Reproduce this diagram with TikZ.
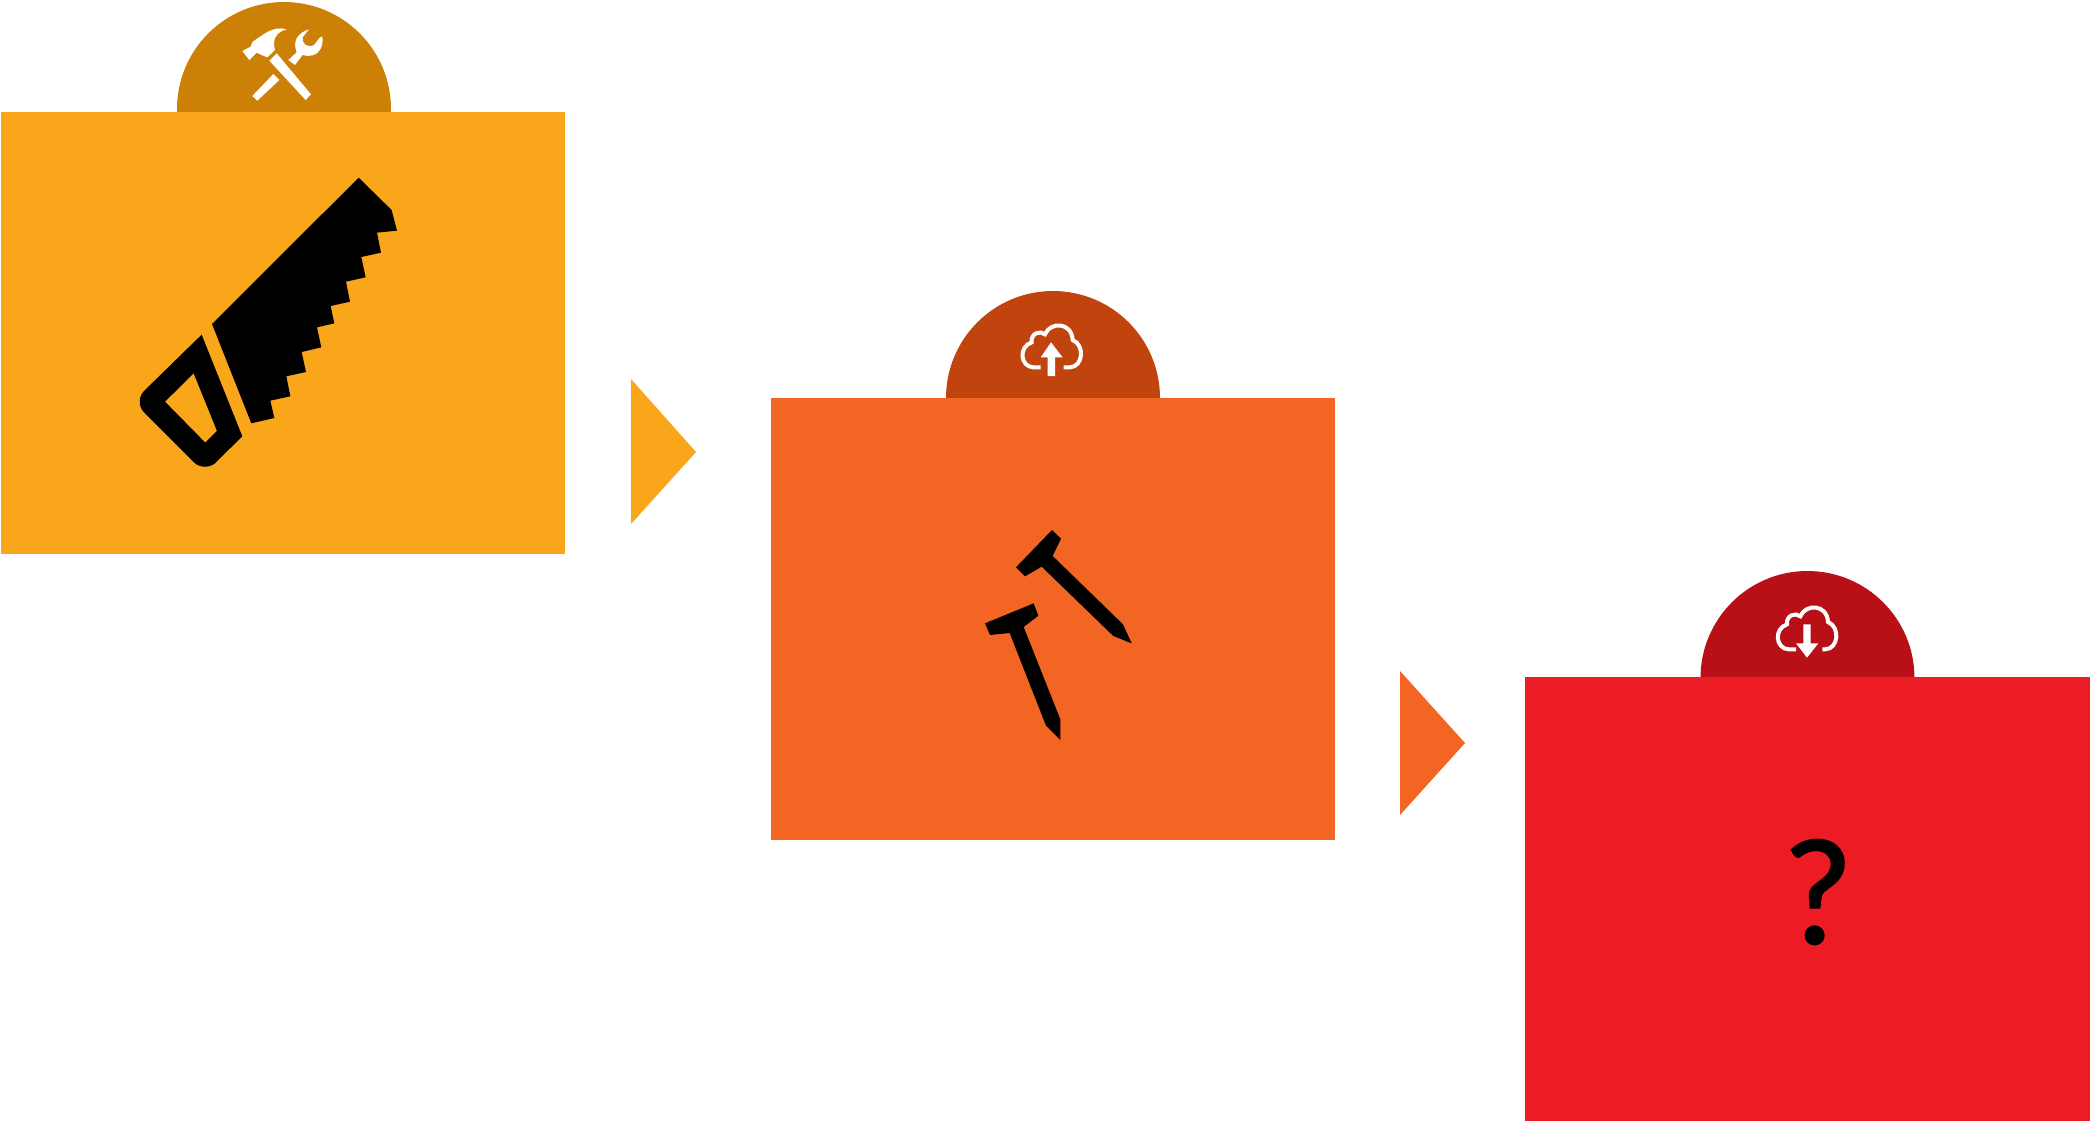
\documentclass[tikz,border=0pt]{standalone}
\usepackage{fontspec}
\setmainfont{Lato}
\newfontfamily\questionfont[FakeBold=1.5]{Lato}
\definecolor{amberbox}{HTML}{FAA61A}
\definecolor{amberdark}{HTML}{CC8005}
\definecolor{orangebox}{HTML}{F26522}
\definecolor{orangedark}{HTML}{C1440E}
\definecolor{redbox}{HTML}{ED1C24}
\definecolor{reddark}{HTML}{B81016}
\tikzset{
  zoomed/.style={x=1pt/6,y=-1pt/6},
  cloudline/.style={draw=white,line width=2pt,fill=none},
  icon/.style={fill=black,draw=none},
  whiteicon/.style={fill=white,draw=none}
}
\begin{document}
\begin{tikzpicture}[x=0.5pt,y=-0.5pt]
\useasboundingbox (0,0) rectangle (2090,1121);
% amber panel
\fill[amberdark] (284,109) circle[radius=107];
\fill[amberbox] (1,112) rectangle (565,554);
% orange panel
\fill[orangedark] (1053,398) circle[radius=107];
\fill[orangebox] (771,398) rectangle (1335,840);
% red panel
\fill[reddark] (1807.5,678) circle[radius=107];
\fill[redbox] (1525,677) rectangle (2090,1121);
% triangles
\fill[amberbox] (631,379) -- (696,452) -- (631,524) -- cycle;
\fill[orangebox] (1400,671) -- (1465,743) -- (1400,815) -- cycle;
% tools icon
\begin{scope}[shift={(160,0)},zoomed]
\fill[whiteicon] (247,153) -- (272,140) -- (278,125) -- (315,100) .. controls (340,85) and (362,82) .. (380,88) .. controls (352,95) and (335,115) .. (345,150) -- (322,172) -- (305,165) -- (290,158) -- (268,180) -- cycle;
\fill[whiteicon] (350,160) -- (453,283) -- (437,300) -- (328,182) -- cycle;
\fill[whiteicon] (340,222) -- (358,240) -- (292,302) -- (277,288) -- cycle;
\fill[whiteicon] (385,180) -- (410,157) .. controls (398,125) and (410,100) .. (447,88) -- (428,112) .. controls (425,130) and (440,145) .. (462,135) -- (480,112) -- (487,110) .. controls (492,140) and (475,178) .. (428,165) -- (405,195) -- cycle;
\end{scope}
% saw
\begin{scope}[shift={(130,170)},zoomed]
\fill[icon] (686,23) -- (785,120) -- (801,182) -- (741,188) -- (753,248) -- (694,261) -- (707,322) -- (648,335) -- (660,395) -- (602,408) -- (613,460) -- (561,472) -- (574,532) -- (515,546) -- (528,606) -- (469,619) -- (481,679) -- (421,692) -- (433,744) -- (364,760) -- (246,462) -- cycle;
\fill[icon,even odd rule] (215,494) -- (337,799) -- (262,873) .. controls (245,895) and (210,895) .. (193,878) -- (42,727) .. controls (25,710) and (25,680) .. (42,663) -- cycle
 (191,610) -- (261,783) -- (226,818) -- (105,695) -- cycle;
\end{scope}
% upload cloud
\begin{scope}[shift={(1000,310)},zoomed]
\draw[cloudline] (122,172) -- (100,172) .. controls (60,170) and (55,110) .. (95,97) .. controls (92,70) and (120,60) .. (135,73) .. controls (150,35) and (215,35) .. (218,90) .. controls (255,105) and (250,170) .. (210,172) -- (191,172);
\fill[whiteicon] (153,97) -- (188,142) -- (165,142) -- (165,198) -- (143,198) -- (143,142) -- (122,142) -- cycle;
\end{scope}
% download cloud
\begin{scope}[shift={(1760,590)},zoomed]
\draw[cloudline] (108,178) -- (86,178) .. controls (46,176) and (41,116) .. (81,103) .. controls (78,76) and (106,66) .. (121,79) .. controls (136,41) and (201,41) .. (204,96) .. controls (241,111) and (236,176) .. (196,178) -- (187,178);
\fill[whiteicon] (130,103) -- (152,103) -- (152,160) -- (175,160) -- (141,203) -- (108,160) -- (130,160) -- cycle;
\end{scope}
% nails
\begin{scope}[shift={(980,510)},zoomed]
\fill[icon] (216,60) -- (243,86) -- (218,138) -- (429,343) -- (455,400) -- (400,378) -- (185,170) -- (135,199) -- (108,172) -- cycle;
\fill[icon] (161,280) -- (175,317) -- (131,351) -- (241,628) -- (241,690) -- (198,647) -- (89,369) -- (30,375) -- (15,340) -- cycle;
\end{scope}
% question mark
\node[inner sep=0pt,font=\questionfont\fontsize{71.5pt}{71.5pt}\selectfont,text=black] (question) at (1818,892) {?};
\end{tikzpicture}
\end{document}
